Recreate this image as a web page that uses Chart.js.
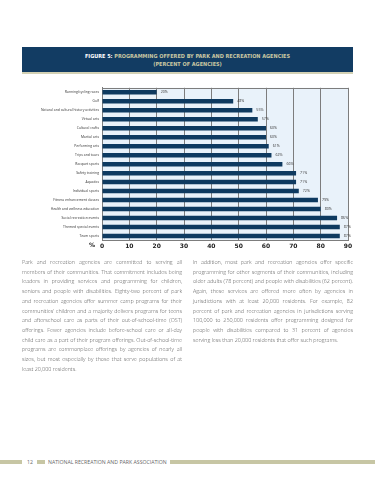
<!DOCTYPE html>
<html>
<head>
<meta charset="utf-8">
<script src="https://cdn.jsdelivr.net/npm/chart.js@4"></script>
<style>
    body { margin: 0; width: 375px; height: 480px; background: #fff; position: relative; overflow: hidden; font-family: "Open Sans", sans-serif; }
    #header { position: absolute; left: 22px; top: 47px; width: 331px; height: 27px; background: #123c63; border-bottom: 2px solid #d3d1b4; text-align: center; font-family: "DejaVu Sans Condensed", sans-serif; font-weight: bold; font-size: 5.5px; line-height: 8.5px; padding-top: 4.5px; box-sizing: border-box; color: #c9c7a2; }
    #header b { color: #fff; }
    #chart-box { position: absolute; left: 0; top: 82px; width: 375px; height: 170px; }
    #pct { position: absolute; left: 89px; top: 241px; font-family: "DejaVu Sans", sans-serif; font-weight: bold; font-size: 6px; color: #222; }
    .col { position: absolute; top: 258px; width: 160px; font-size: 5.4px; line-height: 9.7px; color: #555; text-align: justify; font-weight: 300; }
    #footer { position: absolute; left: 0; top: 457px; width: 375px; height: 10px; }
    .fbar { position: absolute; top: 3px; height: 4px; background: #c7c6a4; }
    .ftext { position: absolute; top: 0; font-size: 5.2px; line-height: 10px; color: #666; white-space: nowrap; }
</style>
</head>
<body>
<div id="header"><b>FIGURE 5:</b> PROGRAMMING OFFERED BY PARK AND RECREATION AGENCIES<br>(PERCENT OF AGENCIES)</div>
<div id="chart-box"><canvas id="prog-chart" width="375" height="170"></canvas></div>
<div id="pct">%</div>
<div class="col" style="left:22px">Park and recreation agencies are committed to serving all members of their communities. That commitment includes being leaders in providing services and programming for children, seniors and people with disabilities. Eighty-two percent of park and recreation agencies offer summer camp programs for their communities’ children and a majority delivers programs for teens and afterschool care as parts of their out-of-school-time (OST) offerings. Fewer agencies include before-school care or all-day child care as a part of their program offerings. Out-of-school-time programs are commonplace offerings by agencies of nearly all sizes, but most especially by those that serve populations of at least 20,000 residents.</div>
<div class="col" style="left:193px">In addition, most park and recreation agencies offer specific programming for other segments of their communities, including older adults (78 percent) and people with disabilities (62 percent). Again, these services are offered more often by agencies in jurisdictions with at least 20,000 residents. For example, 82 percent of park and recreation agencies in jurisdictions serving 100,000 to 250,000 residents offer programming designed for people with disabilities compared to 31 percent of agencies serving less than 20,000 residents that offer such programs.</div>
<div id="footer">
    <div class="fbar" style="left:0;width:22px"></div>
    <div class="ftext" style="left:27px">12</div>
    <div class="fbar" style="left:37px;width:8px"></div>
    <div class="ftext" style="left:48px">NATIONAL RECREATION AND PARK ASSOCIATION</div>
    <div class="fbar" style="left:170px;width:205px"></div>
</div>
<script>
const programs = ['Running/cycling races', 'Golf', 'Natural and cultural history activities', 'Virtual arts',
    'Cultural crafts', 'Martial arts', 'Performing arts', 'Trips and tours', 'Racquet sports', 'Safety training',
    'Aquatics', 'Individual sports', 'Fitness enhancement classes', 'Health and wellness education',
    'Social recreation events', 'Themed special events', 'Team sports'];
const percents = [20, 48, 55, 57, 60, 60, 61, 62, 66, 71, 71, 72, 79, 80, 86, 87, 87];
const xTicks = [0, 10, 20, 30, 40, 50, 60, 70, 80, 90];

// light blue plot background, top border, value labels next to bars
const plotBg = {
    id: 'plotBg',
    beforeDraw(c) {
        const a = c.chartArea;
        c.ctx.save();
        c.ctx.fillStyle = '#e9f2fa';
        c.ctx.fillRect(a.left, a.top, a.right - a.left, a.bottom - a.top);
        c.ctx.restore();
    },
    afterDatasetsDraw(c) {
        const ctx = c.ctx;
        const a = c.chartArea;
        ctx.save();
        ctx.strokeStyle = '#7d7d7d';
        ctx.lineWidth = 1;
        ctx.beginPath();
        ctx.moveTo(a.left, Math.round(a.top) + 0.5);
        ctx.lineTo(a.right, Math.round(a.top) + 0.5);
        ctx.stroke();
        ctx.font = '3.6px "Open Sans"';
        ctx.fillStyle = '#333';
        ctx.textBaseline = 'middle';
        c.getDatasetMeta(0).data.forEach((bar, i) => {
            ctx.fillText(percents[i] + '%', bar.x + 4, bar.y);
        });
        ctx.restore();
    }
};

new Chart(document.getElementById('prog-chart'), {
    type: 'bar',
    data: {
        labels: programs,
        datasets: [{
            data: percents,
            backgroundColor: '#0e3a60',
            barPercentage: 0.5,
            categoryPercentage: 1
        }]
    },
    options: {
        indexAxis: 'y',
        responsive: false,
        animation: false,
        layout: { padding: { top: 5.8, right: 27, left: 0, bottom: 0 } },
        plugins: { legend: { display: false }, tooltip: { enabled: false } },
        scales: {
            x: {
                min: 0, max: 90,
                afterFit: s => { s.height = 11.5; },
                afterBuildTicks: s => { s.ticks = xTicks.map(v => ({ value: v })); },
                grid: { color: '#7d7d7d', lineWidth: 1, drawTicks: false },
                border: { color: '#7d7d7d' },
                ticks: { padding: 2, color: '#222', font: { family: 'DejaVu Sans', weight: 'bold', size: 6 } }
            },
            y: {
                afterFit: s => { s.width = 102; },
                grid: { display: false, drawTicks: false },
                border: { color: '#7d7d7d' },
                ticks: { padding: 3, color: '#333', font: { family: 'Open Sans', size: 3.4 } }
            }
        }
    },
    plugins: [plotBg]
});
</script>
</body>
</html>
